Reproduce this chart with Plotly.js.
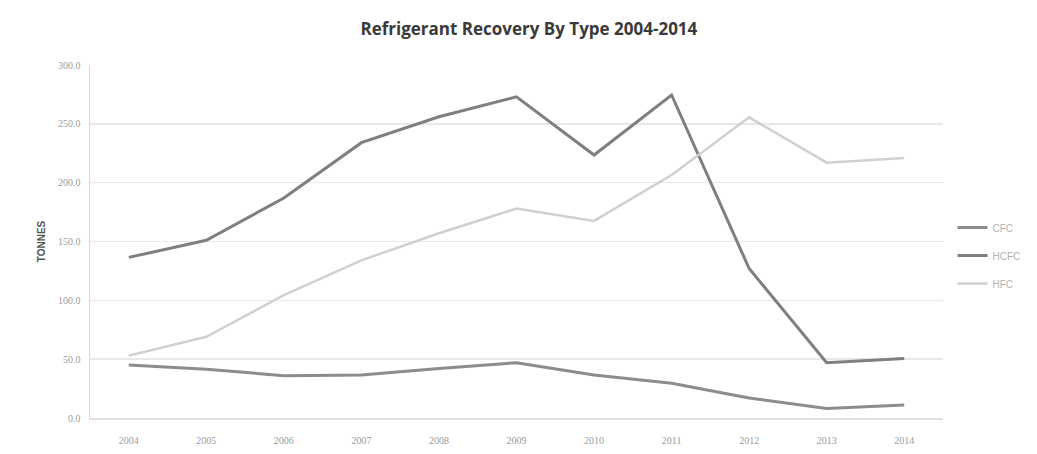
<!DOCTYPE html>
<html>
<head>
<meta charset="utf-8">
<script src="https://cdn.plot.ly/plotly-3.0.1.min.js"></script>
<style>html,body{margin:0;padding:0;background:#fff;}#chart{width:1037px;height:454px;}</style>
</head>
<body>
<div id="chart"></div>
<script>
var years = ["2004","2005","2006","2007","2008","2009","2010","2011","2012","2013","2014"];
var cfc  = [45, 41.5, 36, 36.5, 42, 47, 36.5, 29.5, 17, 8, 11];
var hcfc = [136.5, 151, 187, 234, 256, 273, 223.5, 274.5, 127, 47, 50.5];
var hfc  = [53, 69, 104.5, 134, 157, 178, 167.5, 206.5, 255.5, 217, 221];
var seriesNames = ["CFC", "HCFC", "HFC"];
var yTicks = [0, 50, 100, 150, 200, 250, 300];

var data = [
  {x: years, y: cfc, name: seriesNames[0], legendgroup: "a", type: "scatter", mode: "lines", line: {color: "#8c8c8c", width: 3}},
  {x: years, y: hcfc, name: seriesNames[1], legendgroup: "b", type: "scatter", mode: "lines", line: {color: "#7f7f7f", width: 3}},
  {x: years, y: hfc, name: seriesNames[2], legendgroup: "c", type: "scatter", mode: "lines", line: {color: "#d0d0d0", width: 2.5}}
];

var layout = {
  width: 1037, height: 454,
  margin: {l: 90, r: 93, t: 65, b: 36},
  paper_bgcolor: "#ffffff", plot_bgcolor: "#ffffff",
  title: {text: "<b>Refrigerant Recovery By Type 2004-2014</b>", x: 0.51, xanchor: "center", y: 0.935, yanchor: "middle",
          font: {family: "Open Sans, Liberation Sans, sans-serif", size: 17, color: "#3a3a3a"}},
  xaxis: {type: "category", range: [-0.5, 10.5], showgrid: false, zeroline: false, showline: true, linecolor: "#e0e0e0", linewidth: 1.5,
          tickfont: {family: "Liberation Serif, serif", size: 10, color: "#9a9a9a"}, ticks: "", ticklabelstandoff: 12},
  yaxis: {range: [0, 300], tickvals: yTicks, tickformat: ".1f", showgrid: true, gridcolor: "#e8e8e8", gridwidth: 1.5,
          zeroline: false, showline: true, linecolor: "#d8d8d8", linewidth: 1.5, ticks: "", ticklabelstandoff: 6,
          tickfont: {family: "Liberation Serif, serif", size: 10, color: "#9a9a9a"},
          title: {text: "<b>TONNES</b>", standoff: 10, font: {family: "Liberation Sans Narrow, Liberation Sans, sans-serif", size: 10, color: "#555"}}},
  legend: {x: 1.01, xanchor: "left", y: 0.46, yanchor: "middle", font: {family: "Liberation Sans, sans-serif", size: 10, color: "#b0b0b0"},
           bgcolor: "rgba(0,0,0,0)", tracegroupgap: 9, itemwidth: 30},
  showlegend: true
};

Plotly.newPlot("chart", data, layout, {displayModeBar: false, staticPlot: true});
</script>
</body>
</html>
